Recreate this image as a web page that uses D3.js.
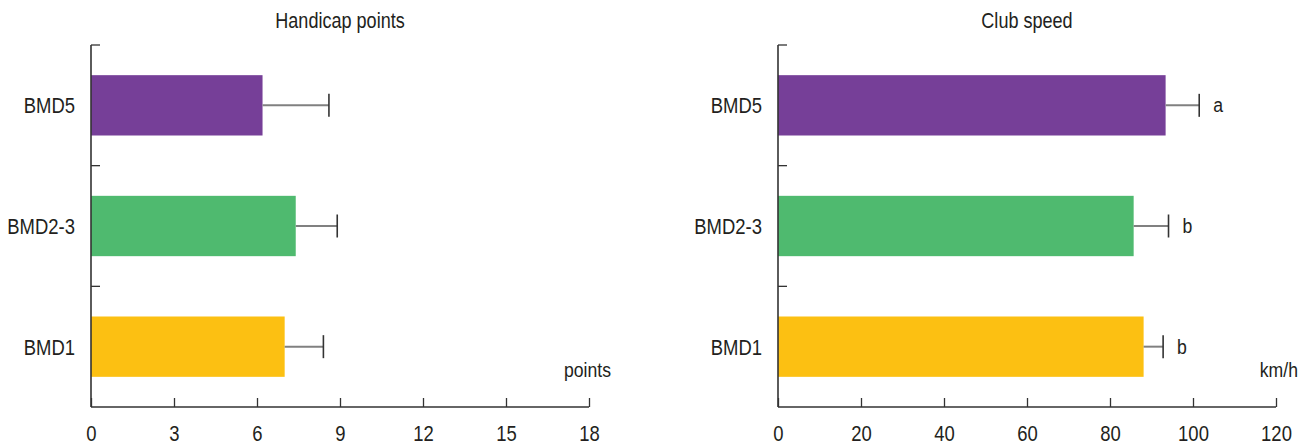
<!DOCTYPE html>
<html>
<head>
<meta charset="utf-8">
<script src="https://cdn.jsdelivr.net/npm/d3@7"></script>
<style>
  html, body { margin: 0; padding: 0; background: #fff; }
  svg text { font-family: "Liberation Sans", Arial, "DejaVu Sans Condensed", sans-serif; fill: #231f20; }
</style>
</head>
<body>
<svg id="chart" width="1305" height="444"></svg>
<script>
// Groups, listed bottom to top
const groups = ["BMD1", "BMD2-3", "BMD5"];
const groupColors = ["#fcc012", "#4fba6f", "#763f98"];

// Handicap points: mean and SD
const handicapMean = [7.0, 7.4, 6.2];
const handicapSD = [1.4, 1.5, 2.4];
const handicapTicks = [0, 3, 6, 9, 12, 15, 18];

// Club speed (km/h): mean, SD and significance letters
const speedMean = [88.1, 85.7, 93.4];
const speedSD = [4.7, 8.4, 8.1];
const speedLetters = ["b", "b", "a"];
const speedTicks = [0, 20, 40, 60, 80, 100, 120];

const panels = [
  { title: "Handicap points", unit: "points", mean: handicapMean, sd: handicapSD,
    ticks: handicapTicks, letters: null, x0: 91, x1: 589 },
  { title: "Club speed", unit: "km/h", mean: speedMean, sd: speedSD,
    ticks: speedTicks, letters: speedLetters, x0: 778, x1: 1276 }
];

const svg = d3.select("#chart");
const plotTop = 45, plotBottom = 407;
const axisColor = "#333";
const narrow = 0.84;   // horizontal squeeze giving a condensed look

// places a text at (x, y) with a condensed glyph shape
function placeNarrow(sel, x, y) {
  sel.attr("x", 0).attr("y", 0)
    .attr("transform", `translate(${x},${y}) scale(${narrow},1)`);
}

panels.forEach(p => {
  const g = svg.append("g");
  const x = d3.scaleLinear()
    .domain([p.ticks[0], p.ticks[p.ticks.length - 1]])
    .range([p.x0, p.x1]);
  const y = d3.scaleBand()
    .domain(groups.slice().reverse())
    .range([plotTop, plotBottom])
    .paddingInner(0.5)
    .paddingOuter(0.25);

  // title
  g.append("text")
    .attr("text-anchor", "middle")
    .style("font-size", "21.5px")
    .text(p.title)
    .call(placeNarrow, (p.x0 + p.x1) / 2, 28);

  // bars
  g.selectAll("rect.bar")
    .data(groups)
    .join("rect")
    .attr("class", "bar")
    .attr("x", x(0))
    .attr("y", d => y(d))
    .attr("width", (d, i) => x(p.mean[i]) - x(0))
    .attr("height", y.bandwidth())
    .attr("fill", (d, i) => groupColors[i]);

  // error bars
  groups.forEach((d, i) => {
    const cy = y(d) + y.bandwidth() / 2;
    const xe = x(p.mean[i] + p.sd[i]);
    g.append("line")
      .attr("x1", x(p.mean[i])).attr("x2", xe)
      .attr("y1", cy).attr("y2", cy)
      .attr("stroke", "#808080").attr("stroke-width", 2);
    g.append("line")
      .attr("x1", xe).attr("x2", xe)
      .attr("y1", cy - 11.5).attr("y2", cy + 11.5)
      .attr("stroke", "#333").attr("stroke-width", 1.6);
    if (p.letters) {
      g.append("text")
        .style("font-size", "21px")
        .text(p.letters[i])
        .call(placeNarrow, xe + 14, cy + 7);
    }
  });

  // x axis with inward ticks
  const xAxis = d3.axisBottom(x)
    .tickValues(p.ticks)
    .tickSize(-9)
    .tickPadding(18)
    .tickFormat(d3.format("d"));
  const gx = g.append("g")
    .attr("transform", `translate(0,${plotBottom})`)
    .call(xAxis);
  gx.attr("font-family", null).attr("font-size", null);
  gx.select(".domain").attr("stroke", axisColor).attr("stroke-width", 1.6)
    .attr("d", `M${p.x0},0H${p.x1}`);
  gx.selectAll(".tick line").attr("stroke", axisColor).attr("stroke-width", 1.3);
  gx.selectAll(".tick text")
    .style("font-size", "22px")
    .attr("fill", "#231f20")
    .attr("transform", `scale(${narrow},1)`);

  // y axis: ticks at band boundaries, labels at band centres
  const boundaries = d3.range(groups.length).map(k => plotTop + k * y.step());
  g.append("line")
    .attr("x1", p.x0).attr("x2", p.x0)
    .attr("y1", plotTop).attr("y2", plotBottom)
    .attr("stroke", axisColor).attr("stroke-width", 1.6);
  g.selectAll("line.ytick")
    .data(boundaries)
    .join("line")
    .attr("class", "ytick")
    .attr("x1", p.x0).attr("x2", p.x0 + 9)
    .attr("y1", d => d).attr("y2", d => d)
    .attr("stroke", axisColor).attr("stroke-width", 1.3);
  g.selectAll("text.ylab")
    .data(groups)
    .join("text")
    .attr("class", "ylab")
    .attr("text-anchor", "end")
    .style("font-size", "22px")
    .text(d => d)
    .each(function(d) {
      d3.select(this).call(placeNarrow, p.x0 - 16, y(d) + y.bandwidth() / 2 + 8);
    });

  // unit label
  g.append("text")
    .attr("text-anchor", "end")
    .style("font-size", "21px")
    .text(p.unit)
    .call(placeNarrow, p.x1 + 22, 377);
});
</script>
</body>
</html>
